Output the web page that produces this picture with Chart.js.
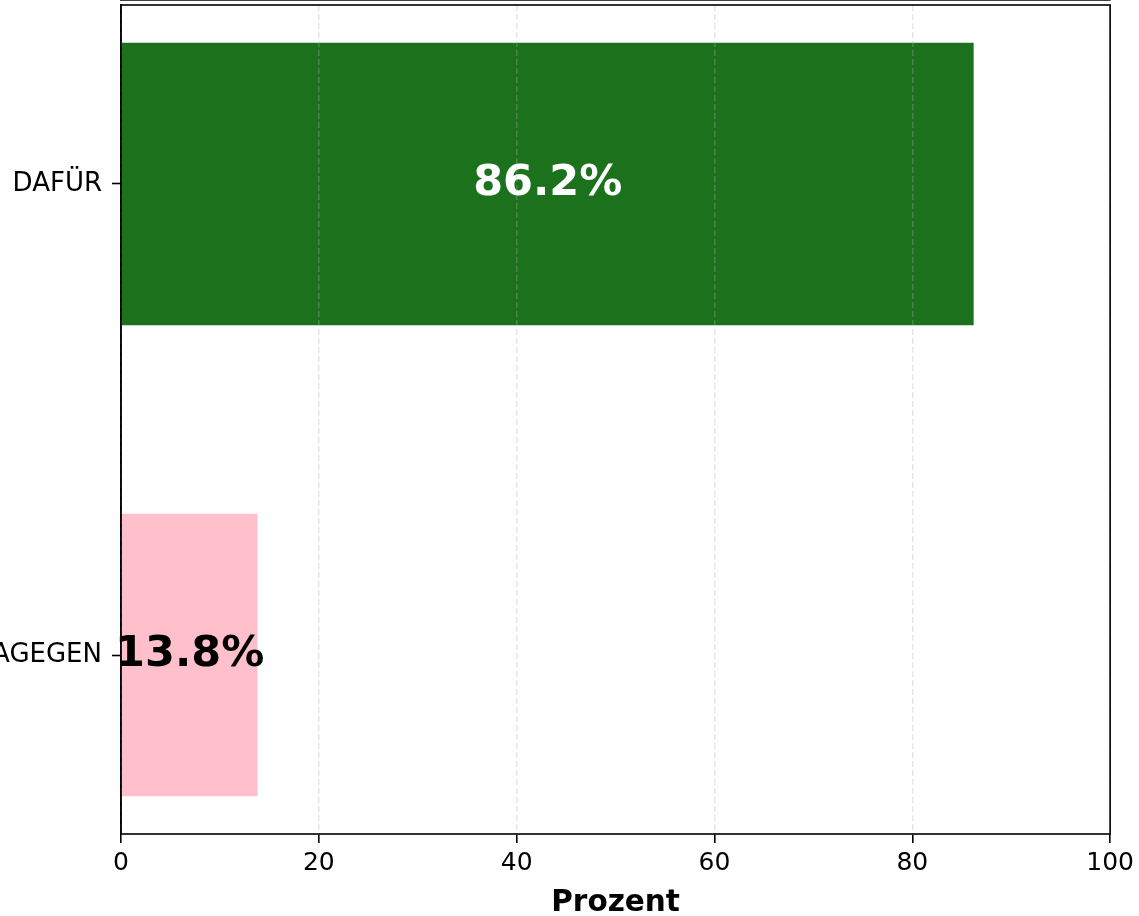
<!DOCTYPE html>
<html>
<head>
<meta charset="utf-8">
<script src="https://cdn.jsdelivr.net/npm/chart.js@4/dist/chart.umd.min.js"></script>
<style>
  html, body { margin: 0; padding: 0; background: #fff; }
  #wrap { width: 1139px; height: 916px; position: relative; }
</style>
</head>
<body>
<div id="wrap"><canvas id="chart"></canvas></div>
<script>
// Daten
const categories = ['DAFÜR', 'DAGEGEN']
const percentages = [86.2, 13.8]
const xTicks = [0, 20, 40, 60, 80, 100]

const barColors = ['#1c711c', '#ffc0cb']
const labelColors = ['#ffffff', '#000000']
const FONT = "'DejaVu Sans', sans-serif"

// Rahmen rund um den Plotbereich (wie matplotlib)
const framePlugin = {
  id: 'frame',
  afterDraw(chart) {
    const { ctx, chartArea: a } = chart
    ctx.save()
    ctx.strokeStyle = '#000'
    ctx.lineWidth = 1.6
    ctx.strokeRect(a.left, a.top, a.right - a.left, a.bottom - a.top)
    ctx.restore()
  }
}

// Prozentwerte mittig in die Balken schreiben
const barLabelPlugin = {
  id: 'barLabels',
  afterDatasetsDraw(chart) {
    const { ctx } = chart
    const meta = chart.getDatasetMeta(0)
    ctx.save()
    ctx.font = 'bold 43px ' + FONT
    ctx.textAlign = 'center'
    ctx.textBaseline = 'middle'
    meta.data.forEach((bar, i) => {
      ctx.fillStyle = labelColors[i]
      ctx.fillText(percentages[i].toFixed(1) + '%', (bar.x + bar.base) / 2, bar.y)
    })
    ctx.restore()
  }
}

const ctx = document.getElementById('chart').getContext('2d')

new Chart(ctx, {
  type: 'bar',
  data: {
    datasets: [{
      data: percentages.map((v, i) => ({ x: v, y: i })),
      backgroundColor: barColors,
      borderWidth: 0,
      barPercentage: 0.6,
      categoryPercentage: 1
    }]
  },
  options: {
    indexAxis: 'y',
    responsive: true,
    maintainAspectRatio: false,
    animation: false,
    layout: { padding: { top: 5, right: 27.5, left: 0, bottom: 0 } },
    plugins: {
      legend: { display: false },
      tooltip: { enabled: false }
    },
    scales: {
      x: {
        type: 'linear',
        min: 0,
        max: 100,
        afterBuildTicks: (scale) => { scale.ticks = xTicks.map(v => ({ value: v })) },
        afterFit: (scale) => { scale.height = 82 },
        grid: {
          z: 1,
          color: 'rgba(176, 176, 176, 0.3)',
          lineWidth: 1.6,
          tickColor: '#000',
          tickWidth: 1.6,
          tickBorderDash: [],
          tickLength: 9
        },
        border: { color: '#000', width: 1.6, dash: [6, 3] },
        ticks: {
          color: '#000',
          font: { family: FONT, size: 25 },
          padding: 5,
          maxRotation: 0
        },
        title: {
          display: true,
          text: 'Prozent',
          color: '#000',
          font: { family: FONT, size: 29.5, weight: 'bold' },
          padding: { top: 7, bottom: -5 }
        }
      },
      y: {
        type: 'linear',
        reverse: true,
        offset: false,
        min: -0.38,
        max: 1.38,
        afterBuildTicks: (scale) => { scale.ticks = categories.map((c, i) => ({ value: i })) },
        afterFit: (scale) => {
          scale.width = 121
          scale.paddingTop = 0
          scale.paddingBottom = 0
        },
        grid: {
          offset: false,
          drawOnChartArea: false,
          color: '#000',
          tickColor: '#000',
          tickWidth: 1.6,
          tickLength: 9
        },
        border: { color: '#000', width: 1.6 },
        ticks: {
          color: '#000',
          font: { family: FONT, size: 26 },
          padding: 10,
          callback: (v) => categories[v]
        }
      }
    }
  },
  plugins: [barLabelPlugin, framePlugin]
})
</script>
</body>
</html>
